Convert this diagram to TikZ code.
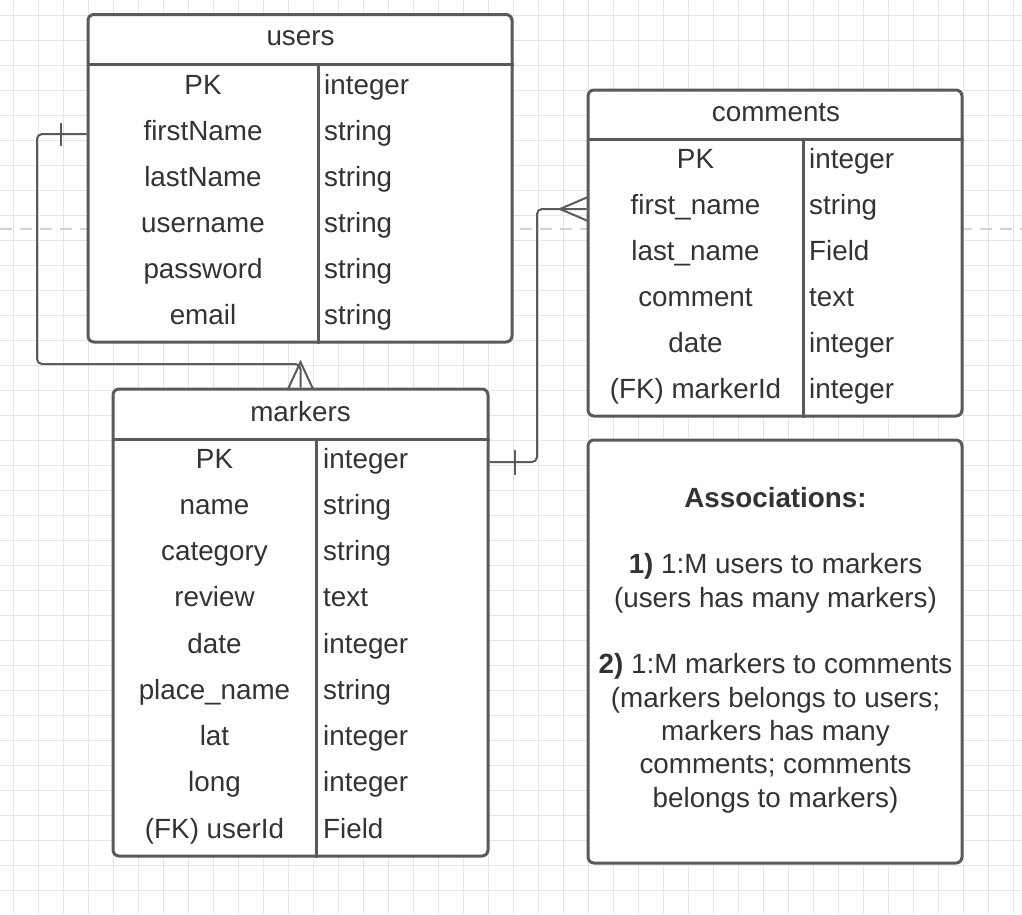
\documentclass[tikz,border=0pt]{standalone}
\usepackage{fontspec}
\setmainfont{Liberation Sans}
\definecolor{linec}{HTML}{5A5A5A}
\definecolor{txtc}{HTML}{333333}
\definecolor{gridc}{HTML}{E6E6E6}
\definecolor{dashc}{HTML}{D2D2D2}
\newcommand\fsz{\fontsize{27.8pt}{33.35pt}\selectfont}
\begin{document}
\begin{tikzpicture}[x=1pt,y=-1pt,
  tbl/.style={draw=linec, line width=3pt, fill=white, rounded corners=6pt, inner sep=0pt},
  sepline/.style={draw=linec, line width=3pt},
  conn/.style={draw=linec, line width=2pt, rounded corners=5pt},
  endmark/.style={draw=linec, line width=2pt},
  cell/.style={text=txtc, font=\fsz, inner sep=0pt, anchor=base},
  lcell/.style={cell, anchor=base west},
  gridline/.style={draw=gridc, line width=1pt},
]
\useasboundingbox (0,0) rectangle (1022,914);
\fill[white] (0,0) rectangle (1022,914);
% grid
\foreach \x in {13,38,...,1013} \draw[gridline] (\x,0) -- (\x,914);
\foreach \y in {15,40,...,915} \draw[gridline] (0,\y) -- (1022,\y);
% page break line
\draw[dashc, line width=2.5pt, dash pattern=on 12pt off 8pt] (0,229) -- (1022,229);

% ---------- users ----------
\node[tbl, minimum width=424pt, minimum height=327.5pt] (users) at (300,178.25) {};
\coordinate (uh) at (0,64);
\coordinate (ud) at (318,64);
\draw[sepline] (users.west |- uh) -- (users.east |- uh);
\draw[sepline] (ud) -- (ud |- users.south);
\node[cell] (uhead) at (300.5,45) {users};
\node[cell] (ul1) at (203,94) {PK};
\node[cell] (ul2) at (203,140) {firstName};
\node[cell] (ul3) at (203,186) {lastName};
\node[cell] (ul4) at (203,232) {username};
\node[cell] (ul5) at (203,278) {password};
\node[cell] (ul6) at (203,324) {email};
\node[lcell] (ur1) at (324,94) {integer};
\node[lcell] (ur2) at (324,140) {string};
\node[lcell] (ur3) at (324,186) {string};
\node[lcell] (ur4) at (324,232) {string};
\node[lcell] (ur5) at (324,278) {string};
\node[lcell] (ur6) at (324,324) {string};

% ---------- markers ----------
\node[tbl, minimum width=375pt, minimum height=467pt] (markers) at (300.5,622.5) {};
\coordinate (mh) at (0,439);
\coordinate (md) at (316,439);
\draw[sepline] (markers.west |- mh) -- (markers.east |- mh);
\draw[sepline] (md) -- (md |- markers.south);
\node[cell] (mhead) at (300.5,421) {markers};
\node[cell] (ml1) at (214.5,468) {PK};
\node[cell] (ml2) at (214.5,514.25) {name};
\node[cell] (ml3) at (214.5,560.5) {category};
\node[cell] (ml4) at (214.5,606.75) {review};
\node[cell] (ml5) at (214.5,653) {date};
\node[cell] (ml6) at (214.5,699.25) {place\_name};
\node[cell] (ml7) at (214.5,745.5) {lat};
\node[cell] (ml8) at (214.5,791.75) {long};
\node[cell] (ml9) at (214.5,838) {(FK) userId};
\node[lcell] (mr1) at (323,468) {integer};
\node[lcell] (mr2) at (323,514.25) {string};
\node[lcell] (mr3) at (323,560.5) {string};
\node[lcell] (mr4) at (323,606.75) {text};
\node[lcell] (mr5) at (323,653) {integer};
\node[lcell] (mr6) at (323,699.25) {string};
\node[lcell] (mr7) at (323,745.5) {integer};
\node[lcell] (mr8) at (323,791.75) {integer};
\node[lcell] (mr9) at (323,838) {Field};

% ---------- comments ----------
\node[tbl, minimum width=374pt, minimum height=326pt] (comments) at (775,253) {};
\coordinate (ch) at (0,139);
\coordinate (cd) at (803,139);
\draw[sepline] (comments.west |- ch) -- (comments.east |- ch);
\draw[sepline] (cd) -- (cd |- comments.south);
\node[cell] (chead) at (776,121) {comments};
\node[cell] (cl1) at (695.5,168) {PK};
\node[cell] (cl2) at (695.5,214) {first\_name};
\node[cell] (cl3) at (695.5,260) {last\_name};
\node[cell] (cl4) at (695.5,306) {comment};
\node[cell] (cl5) at (695.5,352) {date};
\node[cell] (cl6) at (695.5,398) {(FK) markerId};
\node[lcell] (cr1) at (809,168) {integer};
\node[lcell] (cr2) at (809,214) {string};
\node[lcell] (cr3) at (809,260) {Field};
\node[lcell] (cr4) at (809,306) {text};
\node[lcell] (cr5) at (809,352) {integer};
\node[lcell] (cr6) at (809,398) {integer};

% ---------- associations ----------
\node[tbl, minimum width=374pt, minimum height=423pt] (assoc) at (775,651.5) {};
\node[cell] (a0) at (775.5,507) {\bfseries Associations:};
\node[cell] (a1) at (775.5,573.7) {\textbf{1)} 1:M users to markers};
\node[cell] (a2) at (775.5,607) {(users has many markers)};
\node[cell] (a3) at (775.5,673.7) {\textbf{2)} 1:M markers to comments};
\node[cell] (a4) at (775.5,707) {(markers belongs to users;};
\node[cell] (a5) at (775.5,740.4) {markers has many};
\node[cell] (a6) at (775.5,773.7) {comments; comments};
\node[cell] (a7) at (775.5,807) {belongs to markers)};

% ---------- connectors ----------
\coordinate (ya) at (0,134);
\coordinate (yb) at (0,462);
\coordinate (yc) at (0,209);
\draw[conn] (users.west |- ya) -| (37,364) -| (markers.north);
\draw[endmark] (61,123) -- (61,146);
\draw[endmark] (288,389) -- (300.5,362) -- (313,389);

\draw[conn] (markers.east |- yb) -| (537,209) -- (comments.west |- yc);
\draw[endmark] (515,450) -- (515,475);
\draw[endmark] (588,197) -- (560,209) -- (588,221);
\end{tikzpicture}
\end{document}
